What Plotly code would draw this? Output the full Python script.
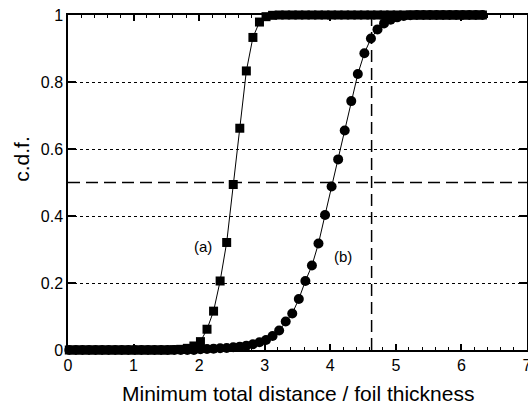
import plotly.graph_objects as go

# Data: x positions (minimum total distance / foil thickness) and c.d.f. values
x_vals = [round(0.02 + 0.1 * k, 2) for k in range(64)]

cdf_a = ([0.0] * 16 +
         [0.001, 0.002, 0.005, 0.012, 0.025, 0.062, 0.116, 0.206, 0.321, 0.494,
          0.662, 0.833, 0.933, 0.979, 0.995, 0.999] +
         [1.0] * 32)

cdf_b = ([0.0] * 20 +
         [0.002, 0.003, 0.004, 0.005, 0.006, 0.008, 0.010, 0.013, 0.017, 0.023,
          0.030, 0.042, 0.058, 0.085, 0.109, 0.152, 0.206, 0.252, 0.318, 0.403,
          0.488, 0.569, 0.655, 0.743, 0.824, 0.886, 0.930, 0.957, 0.975, 0.986,
          0.993, 0.997, 0.999] +
         [1.0] * 11)

ref_x = 4.63
ref_y = 0.5

FONT = "Arial, Liberation Sans, sans-serif"

fig = go.Figure()
fig.add_trace(go.Scatter(
    x=x_vals, y=cdf_a, mode="lines+markers",
    line=dict(color="black", width=1),
    marker=dict(symbol="square", size=9, color="black"),
    cliponaxis=False, showlegend=False))
fig.add_trace(go.Scatter(
    x=x_vals, y=cdf_b, mode="lines+markers",
    line=dict(color="black", width=1),
    marker=dict(symbol="circle", size=10, color="black"),
    cliponaxis=False, showlegend=False))

fig.add_shape(type="line", x0=0, x1=7, y0=ref_y, y1=ref_y, xref="x", yref="y",
              line=dict(color="black", width=1.5, dash="12px,6px"))
fig.add_shape(type="line", x0=ref_x, x1=ref_x, y0=0, y1=1, xref="x", yref="y",
              line=dict(color="black", width=1.5, dash="12px,6px"))

fig.add_annotation(x=2.06, y=0.31, text="(a)", showarrow=False, xref="x", yref="y",
                   font=dict(family=FONT, size=15, color="black"))
fig.add_annotation(x=4.2, y=0.28, text="(b)", showarrow=False, xref="x", yref="y",
                   font=dict(family=FONT, size=15, color="black"))

fig.add_annotation(x=0.5, y=-0.13, xref="paper", yref="paper", yanchor="middle",
                   text="Minimum total distance / foil thickness", showarrow=False,
                   font=dict(family=FONT, size=21, color="black"))
fig.add_annotation(x=-0.103, y=0.57, xref="paper", yref="paper", textangle=-90,
                   text="c.d.f.", showarrow=False, xanchor="center",
                   font=dict(family=FONT, size=21, color="black"))

fig.update_xaxes(range=[0, 7], tickvals=list(range(8)), ticks="inside", ticklen=6,
                 tickwidth=1.5, tickcolor="black", ticklabeloverflow="allow",
                 automargin=False,
                 minor=dict(dtick=0.2, ticks="inside", ticklen=3, tickwidth=1.2, tickcolor="black", showgrid=False),
                 showline=True, linecolor="black", linewidth=1.5, mirror="ticks",
                 showgrid=False, zeroline=False,
                 tickfont=dict(family=FONT, size=16, color="black"))
fig.update_yaxes(range=[0, 1], tickvals=[0, 0.2, 0.4, 0.6, 0.8, 1],
                 ticktext=["0", "0.2", "0.4", "0.6", "0.8", "1"],
                 ticks="inside", ticklen=8, tickwidth=1.5, tickcolor="black",
                 automargin=False,
                 showline=True, linecolor="black", linewidth=1.5, mirror="ticks",
                 showgrid=True, gridcolor="black", gridwidth=1, griddash="dot",
                 zeroline=False,
                 tickfont=dict(family=FONT, size=16, color="black"))

fig.update_layout(width=528, height=410,
                  margin=dict(l=68, r=1, t=15, b=60, autoexpand=False),
                  plot_bgcolor="white", paper_bgcolor="white")

fig.write_html("out.html")
